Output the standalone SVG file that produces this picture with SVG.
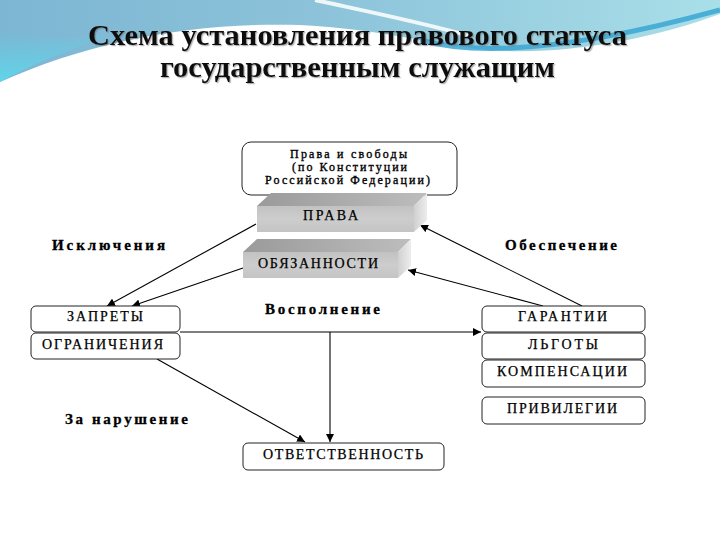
<svg xmlns="http://www.w3.org/2000/svg" width="720" height="540" viewBox="0 0 720 540">
<defs>
<linearGradient id="sky" x1="0" y1="0" x2="1" y2="0">
<stop offset="0" stop-color="#7db6d3"/>
<stop offset="0.45" stop-color="#8cc3da"/>
<stop offset="1" stop-color="#a9dfe8"/>
</linearGradient>
<linearGradient id="cyanL" x1="0" y1="0" x2="0" y2="1">
<stop offset="0" stop-color="#5fd0e6" stop-opacity="0"/>
<stop offset="1" stop-color="#5fd6ea" stop-opacity="1"/>
</linearGradient>
<linearGradient id="topFace" x1="0" y1="0" x2="1" y2="0">
<stop offset="0" stop-color="#9a9a9a"/>
<stop offset="1" stop-color="#bdbdbd"/>
</linearGradient>
<linearGradient id="frontFace" x1="0" y1="0" x2="0" y2="1">
<stop offset="0" stop-color="#c2c2c2"/>
<stop offset="0.5" stop-color="#cdcdcd"/>
<stop offset="1" stop-color="#c4c4c4"/>
</linearGradient>
<linearGradient id="sideFace" x1="0" y1="0" x2="1" y2="0">
<stop offset="0" stop-color="#d0d0d0"/>
<stop offset="1" stop-color="#ededed"/>
</linearGradient>
<filter id="shadow" x="-5%" y="-20%" width="110%" height="150%">
<feDropShadow dx="1.2" dy="1.2" stdDeviation="0.7" flood-color="#666" flood-opacity="0.5"/>
</filter>
<marker id="arrow" viewBox="0 0 10 10" refX="10" refY="5" markerWidth="8" markerHeight="8" markerUnits="userSpaceOnUse" orient="auto">
<path d="M0,0 L10,5 L0,10 Z" fill="#000"/>
</marker>
</defs>
<style>
.box{fill:#fff;stroke:#222;stroke-width:1}
.nt{font-family:"Liberation Serif","Times New Roman",serif;font-size:14px;fill:#000;stroke:#000;stroke-width:0.25}
.st{font-family:"Liberation Serif","Times New Roman",serif;font-size:12px;fill:#000;stroke:#000;stroke-width:0.35}
.lb{font-family:"Liberation Serif","Times New Roman",serif;font-size:15px;font-weight:bold;fill:#000;stroke:#000;stroke-width:0.3}
.title{font-family:"Liberation Serif","Times New Roman",serif;font-size:30px;font-weight:bold;fill:#111}
.conn{fill:none;stroke:#000;stroke-width:1.1}
</style>

<!-- background -->
<rect x="0" y="0" width="720" height="540" fill="#fff"/>
<path d="M0,0 H720 V14 C650,40 560,56 490,50 C430,45 390,30 300,25 C190,22 90,42 0,82 Z" fill="url(#sky)"/>
<path d="M0,30 C40,40 80,40 120,34 C80,45 40,60 0,82 Z" fill="url(#cyanL)"/>
<path d="M420,40 C470,54 560,54 720,10" fill="none" stroke="#3aa6d2" stroke-width="5" opacity="0.85"/>
<path d="M315,0 C370,12 420,22 470,36" fill="none" stroke="#ffffff" stroke-width="4" opacity="0.85"/>

<!-- title -->
<g id="title" filter="url(#shadow)">
<text class="title" x="88" y="45" textLength="539" lengthAdjust="spacingAndGlyphs">Схема установления правового статуса</text>
<text class="title" x="160" y="77" textLength="395" lengthAdjust="spacingAndGlyphs">государственным служащим</text>
</g>

<!-- connectors -->
<g id="connectors">
<line class="conn" x1="180" y1="332" x2="481" y2="332" marker-end="url(#arrow)"/>
<line class="conn" x1="330" y1="332" x2="330" y2="442" marker-end="url(#arrow)"/>
<line class="conn" x1="157" y1="359" x2="305" y2="442" marker-end="url(#arrow)"/>
<line class="conn" x1="256" y1="224" x2="107" y2="306" marker-end="url(#arrow)"/>
<line class="conn" x1="243" y1="268" x2="132" y2="306" marker-end="url(#arrow)"/>
<line class="conn" x1="582" y1="306" x2="420" y2="225" marker-end="url(#arrow)"/>
<line class="conn" x1="543" y1="306" x2="408" y2="270" marker-end="url(#arrow)"/>
</g>

<!-- nodes -->
<g id="n-prava-svobody">
<rect class="box" x="242" y="142" width="215" height="53" rx="9"/>
<text class="st" x="290" y="158" textLength="117" lengthAdjust="spacing">Права и свободы</text>
<text class="st" x="292" y="171" textLength="115" lengthAdjust="spacing">(по Конституции</text>
<text class="st" x="265" y="184" textLength="165" lengthAdjust="spacing">Российской Федерации)</text>
</g>

<g id="n-prava">
<polygon points="257,206 271,193 427,193 414,206" fill="url(#topFace)"/>
<polygon points="414,206 427,193 427,220 414,232" fill="url(#sideFace)"/>
<rect x="257" y="206" width="157" height="26" fill="url(#frontFace)"/>
<text class="nt" x="303" y="220" textLength="55" lengthAdjust="spacing">ПРАВА</text>
</g>

<g id="n-obyazannosti">
<polygon points="243,252 257,239 411,239 398,252" fill="url(#topFace)"/>
<polygon points="398,252 411,239 411,266 398,278" fill="url(#sideFace)"/>
<rect x="243" y="252" width="155" height="26" fill="url(#frontFace)"/>
<text class="nt" x="258" y="268" textLength="120" lengthAdjust="spacing">ОБЯЗАННОСТИ</text>
</g>

<g id="n-zaprety">
<rect class="box" x="31" y="306" width="149" height="26" rx="5"/>
<text class="nt" x="67" y="321" textLength="76" lengthAdjust="spacing">ЗАПРЕТЫ</text>
</g>
<g id="n-ogranicheniya">
<rect class="box" x="31" y="333" width="149" height="26" rx="5"/>
<text class="nt" x="42" y="349" textLength="121" lengthAdjust="spacing">ОГРАНИЧЕНИЯ</text>
</g>

<g id="n-garantii">
<rect class="box" x="482" y="306" width="163" height="26" rx="5"/>
<text class="nt" x="518" y="321" textLength="89" lengthAdjust="spacing">ГАРАНТИИ</text>
</g>
<g id="n-lgoty">
<rect class="box" x="482" y="333" width="163" height="26" rx="5"/>
<text class="nt" x="528" y="349" textLength="70" lengthAdjust="spacing">ЛЬГОТЫ</text>
</g>
<g id="n-kompensatsii">
<rect class="box" x="482" y="360" width="163" height="27" rx="5"/>
<text class="nt" x="497" y="376" textLength="130" lengthAdjust="spacing">КОМПЕНСАЦИИ</text>
</g>
<g id="n-privilegii">
<rect class="box" x="482" y="397" width="163" height="27" rx="5"/>
<text class="nt" x="507" y="413" textLength="110" lengthAdjust="spacing">ПРИВИЛЕГИИ</text>
</g>

<g id="n-otvetstvennost">
<rect class="box" x="243" y="443" width="201" height="27" rx="5"/>
<text class="nt" x="263" y="459" textLength="160" lengthAdjust="spacing">ОТВЕТСТВЕННОСТЬ</text>
</g>

<!-- labels -->
<g id="labels">
<text class="lb" x="52" y="250" textLength="113" lengthAdjust="spacing">Исключения</text>
<text class="lb" x="505" y="250" textLength="112" lengthAdjust="spacing">Обеспечение</text>
<text class="lb" x="265" y="314" textLength="115" lengthAdjust="spacing">Восполнение</text>
<text class="lb" x="65" y="424" textLength="123" lengthAdjust="spacing">За нарушение</text>
</g>
</svg>
